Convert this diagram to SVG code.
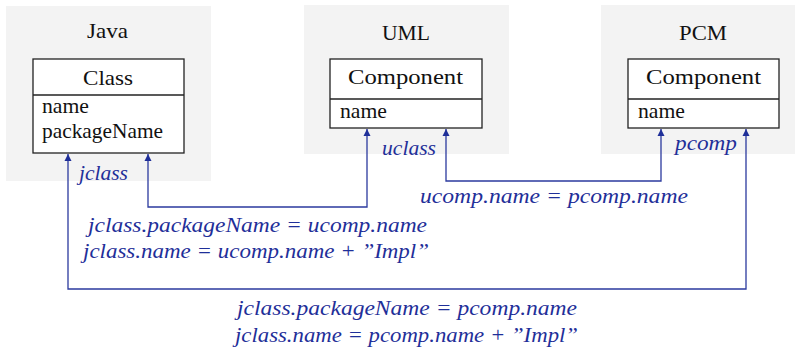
<svg xmlns="http://www.w3.org/2000/svg" width="796" height="354" viewBox="0 0 796 354">
<defs>
<style>
.panel{fill:#f3f3f3}
.box{fill:#fff;stroke:#222;stroke-width:1.3}
.t{font-family:"Liberation Serif","DejaVu Serif",serif;font-size:21px;fill:#111}
.l{font-family:"Liberation Serif","DejaVu Serif",serif;font-size:22px;font-style:italic;fill:#1f2f99}
.conn{fill:none;stroke:#2b3a9e;stroke-width:1.3}
</style>
<marker id="ah" viewBox="0 0 10 10" refX="10" refY="5" markerWidth="7" markerHeight="9" orient="auto-start-reverse" markerUnits="userSpaceOnUse">
<path d="M0,0 L10,5 L0,10 z" fill="#1f2f99"/>
</marker>
</defs>
<rect width="796" height="354" fill="#fff"/>
<g id="java">
<rect class="panel" x="6" y="6" width="205" height="175"/>
<text class="t" x="87" y="38" textLength="41" lengthAdjust="spacingAndGlyphs">Java</text>
<rect class="box" x="33" y="59" width="151" height="94"/>
<line class="box" x1="33" y1="95" x2="184" y2="95"/>
<text class="t" x="83" y="85" textLength="50" lengthAdjust="spacingAndGlyphs">Class</text>
<text class="t" x="42" y="113" textLength="47" lengthAdjust="spacingAndGlyphs">name</text>
<text class="t" x="42" y="138" textLength="121" lengthAdjust="spacingAndGlyphs">packageName</text>
</g>
<g id="uml">
<rect class="panel" x="304" y="5" width="205" height="149"/>
<text class="t" x="382" y="40" textLength="48" lengthAdjust="spacingAndGlyphs">UML</text>
<rect class="box" x="330" y="59" width="152" height="69"/>
<line class="box" x1="330" y1="99" x2="482" y2="99"/>
<text class="t" x="348" y="84" textLength="115" lengthAdjust="spacingAndGlyphs">Component</text>
<text class="t" x="340" y="118" textLength="47" lengthAdjust="spacingAndGlyphs">name</text>
</g>
<g id="pcm">
<rect class="panel" x="601" y="5" width="194" height="149"/>
<text class="t" x="679" y="40" textLength="48" lengthAdjust="spacingAndGlyphs">PCM</text>
<rect class="box" x="628" y="59" width="151" height="69"/>
<line class="box" x1="628" y1="99" x2="779" y2="99"/>
<text class="t" x="646" y="84" textLength="115" lengthAdjust="spacingAndGlyphs">Component</text>
<text class="t" x="638" y="118" textLength="47" lengthAdjust="spacingAndGlyphs">name</text>
</g>
<g id="connectors">
<path class="conn" d="M148,154 V207 H367 V129" marker-start="url(#ah)" marker-end="url(#ah)"/>
<path class="conn" d="M446,129 V181 H661 V129" marker-start="url(#ah)" marker-end="url(#ah)"/>
<path class="conn" d="M68,154 V289 H746 V129" marker-start="url(#ah)" marker-end="url(#ah)"/>
</g>
<g id="labels">
<text class="l" x="79" y="180" textLength="49" lengthAdjust="spacingAndGlyphs">jclass</text>
<text class="l" x="382" y="155" textLength="54" lengthAdjust="spacingAndGlyphs">uclass</text>
<text class="l" x="675" y="150" textLength="62" lengthAdjust="spacingAndGlyphs">pcomp</text>
<text class="l" x="88" y="232" textLength="339" lengthAdjust="spacingAndGlyphs">jclass.packageName = ucomp.name</text>
<text class="l" x="83" y="258" textLength="346" lengthAdjust="spacingAndGlyphs">jclass.name = ucomp.name + ”Impl”</text>
<text class="l" x="420" y="203" textLength="268" lengthAdjust="spacingAndGlyphs">ucomp.name = pcomp.name</text>
<text class="l" x="237" y="315" textLength="340" lengthAdjust="spacingAndGlyphs">jclass.packageName = pcomp.name</text>
<text class="l" x="235" y="342" textLength="343" lengthAdjust="spacingAndGlyphs">jclass.name = pcomp.name + ”Impl”</text>
</g>
</svg>
